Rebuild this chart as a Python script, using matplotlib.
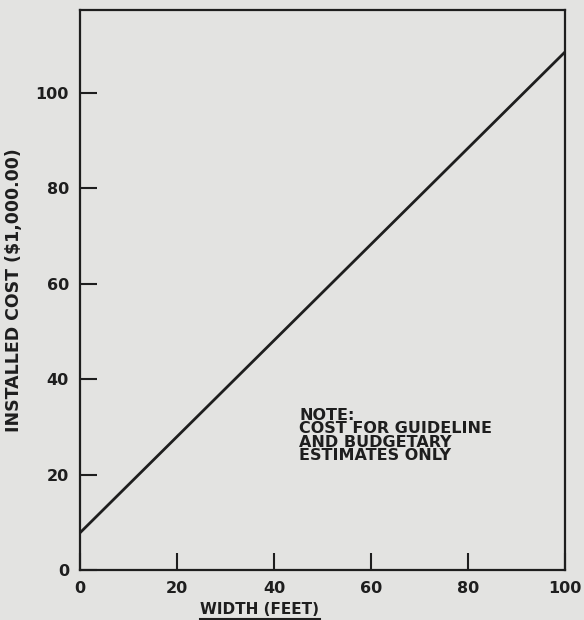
import matplotlib
matplotlib.use('Agg')
import matplotlib.pyplot as plt
from matplotlib.lines import Line2D

# Installed cost vs width (straight line between two read-off endpoints)
width_ft = [0, 100]
cost_k = [7.8, 108.6]

x_ticks = [0, 20, 40, 60, 80, 100]
y_ticks = [0, 20, 40, 60, 80, 100]

bg = '#e3e3e1'
ink = '#1e1e1e'

plt.rcParams['font.family'] = ['DejaVu Sans']
plt.rcParams['font.weight'] = 'bold'

fig = plt.figure(figsize=(5.84, 6.2), dpi=100, facecolor=bg)
ax = fig.add_axes([80 / 584, 1 - 570 / 620, 485 / 584, 560 / 620])
ax.set_facecolor(bg)

ax.plot(width_ft, cost_k, color=ink, linewidth=2.0, solid_capstyle='butt')

ax.set_xlim(0, 100)
ax.set_ylim(0, 117.4)
ax.set_xticks(x_ticks)
ax.set_yticks(y_ticks)
ax.tick_params(direction='in', length=12, width=1.5, color=ink,
               labelsize=11.5, pad=8, labelcolor=ink)
for lab in ax.get_xticklabels() + ax.get_yticklabels():
    lab.set_fontweight('bold')
for s in ax.spines.values():
    s.set_linewidth(1.6)
    s.set_color(ink)

ax.set_ylabel('INSTALLED COST ($1,000.00)', fontsize=12.5, fontweight='bold',
              color=ink, labelpad=9)

# note in the lower right
ax.text(45.2, 34.0, 'NOTE:\nCOST FOR GUIDELINE\nAND BUDGETARY\nESTIMATES ONLY',
        fontsize=11.5, fontweight='bold', color=ink, va='top', ha='left',
        linespacing=0.88)

# underlined x label, placed left of centre like the original
xl = fig.text(260 / 584, 1 - 610 / 620, 'WIDTH (FEET)', fontsize=11,
              fontweight='bold', color=ink, ha='center', va='center')
fig.canvas.draw()
bb = xl.get_window_extent().transformed(fig.transFigure.inverted())
fig.add_artist(Line2D([bb.x0, bb.x1], [bb.y0 - 0.002, bb.y0 - 0.002],
                      transform=fig.transFigure, color=ink, linewidth=1.5))

fig.savefig('out.png', dpi=100, facecolor=bg)
